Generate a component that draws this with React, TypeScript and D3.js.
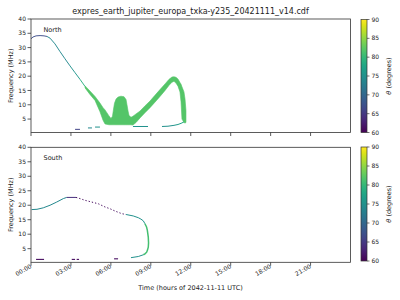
import React from 'react';
import * as d3 from 'd3';

const TITLE = 'expres_earth_jupiter_europa_txka-y235_20421111_v14.cdf';
const xTickHours = [0, 3, 6, 9, 12, 15, 18, 21];
const xTickLabels = ['00:00', '03:00', '06:00', '09:00', '12:00', '15:00', '18:00', '21:00'];
const yTicks = [5, 10, 15, 20, 25, 30, 35, 40];
const cbarTicks = [60, 65, 70, 75, 80, 85, 90];

// North hemisphere emission
const nLineT = [0, 0.15, 0.38, 0.68, 0.98, 1.2, 1.43, 1.8, 2.18, 2.55, 2.93, 3.31, 3.68, 4.06];
const nLineF = [33.1, 33.7, 34.1, 34.2, 34.1, 33.9, 33.3, 31.3, 28.6, 26.1, 23.6, 21.2, 18.9, 16.4];
const nLineTheta = [67, 67, 67, 67, 67, 74, 74, 74, 74, 74, 75, 76, 79, 80];

const nBandT = [4.06, 4.43, 4.81, 5.18, 5.41, 5.56, 5.86, 6.01, 6.12, 6.2, 6.27, 6.39, 6.54, 6.76, 6.99, 7.14, 7.21, 7.29, 7.36, 7.51, 7.66, 7.89, 8.19, 8.56, 8.94, 9.31, 9.69, 10.07, 10.37, 10.59, 10.74, 10.89, 11.04, 11.19, 11.27, 11.34, 11.49, 11.57, 11.64];
const nBandLo = [15.9, 13.6, 11.5, 7.6, 4.6, 3.3, 3.0, 3.0, 3.0, 3.0, 3.0, 3.0, 3.0, 3.0, 3.0, 3.0, 3.0, 3.0, 3.0, 3.0, 2.9, 3.8, 5.4, 7.2, 9.0, 10.9, 12.9, 15.0, 16.8, 17.9, 18.2, 17.6, 16.5, 14.5, 11.0, 5.0, 3.8, 3.6, 3.8];
const nBandHi = [16.6, 14.8, 12.9, 10.6, 9.0, 8.2, 6.1, 5.2, 6.0, 8.5, 10.5, 12.0, 12.7, 13.0, 12.8, 11.8, 10.0, 7.8, 6.3, 5.6, 6.0, 6.8, 7.8, 9.6, 11.3, 13.3, 15.3, 17.3, 18.9, 19.7, 19.8, 19.6, 19.0, 17.8, 17.2, 16.3, 14.5, 12.0, 8.0];
const nBandTheta = 82;

const nDashT0 = [3.31, 4.28, 4.81, 7.66];
const nDashT1 = [3.68, 4.58, 5.18, 8.79];
const nDashF = [1.4, 1.9, 2.2, 2.4];
const nDashTheta = [66, 74, 75, 75];

const nTailT = [9.84, 10.29, 10.74, 11.04, 11.27, 11.49];
const nTailF = [2.4, 2.5, 2.8, 3.1, 3.5, 4.0];
const nTailTheta = [75, 75, 76, 77, 78, 80];

// South hemisphere emission
const sLineT = [0.05, 0.45, 0.92, 1.43, 1.93, 2.43, 2.68, 3.38, 3.68, 4.06, 4.56, 5.06, 5.56, 5.93, 6.31, 6.81, 7.14, 7.68, 8.06, 8.26, 8.44, 8.56, 8.68, 8.74, 8.81, 8.83, 8.81, 8.75, 8.69, 8.56, 8.44, 8.06, 7.51];
const sLineF = [18.5, 18.6, 19.1, 20.0, 21.1, 22.3, 22.7, 22.7, 22.3, 21.7, 21.1, 20.5, 19.4, 18.8, 18.0, 17.1, 16.8, 16.3, 15.7, 15.2, 14.6, 13.6, 12.5, 11.3, 9.0, 7.0, 5.5, 4.5, 3.8, 3.2, 2.9, 2.3, 1.9];
const sLineTheta = [74, 74, 74, 74, 74, 74, 64, 61, 61, 61, 61, 61, 61, 61, 61, 61, 75, 75, 75, 75, 75, 81, 81, 81, 81, 81, 81, 81, 81, 81, 75, 75, 75];

const sDashT0 = [0.38, 3.06, 3.43, 6.24];
const sDashT1 = [0.98, 3.31, 3.61, 6.54];
const sDashF = [1.3, 1.3, 1.3, 1.5];
const sDashTheta = [61, 61, 61, 61];

const FONT = 'DejaVu Sans, sans-serif';
const TXT = '#222';
const AX = '#333';

const x = d3.scaleLinear().domain([0, 24]).range([31, 350.5]);
const color = (th: number) => d3.interpolateViridis((th - 60) / 30);

type Runs = { theta: number; pts: [number, number][] }[];
function runs(t: number[], f: number[], th: number[]): Runs {
  const out: Runs = [];
  for (let i = 0; i < t.length - 1; i++) {
    const last = out[out.length - 1];
    if (last && last.theta === th[i]) {
      last.pts.push([t[i + 1], f[i + 1]]);
    } else {
      out.push({ theta: th[i], pts: [[t[i], f[i]], [t[i + 1], f[i + 1]]] });
    }
  }
  return out;
}

function Panel({ top, bottom, label, kind }: { top: number; bottom: number; label: string; kind: 'N' | 'S' }) {
  const y = d3.scaleLinear().domain([0.3, 40]).range([bottom, top]);
  const line = d3.line<[number, number]>().x(d => x(d[0])).y(d => y(d[1]));
  const marks: React.ReactNode[] = [];
  if (kind === 'N') {
    const band = nBandT.map((t, i) => ({ t, lo: nBandLo[i], hi: nBandHi[i] }));
    const area = d3.area<{ t: number; lo: number; hi: number }>()
      .x(d => x(d.t)).y0(d => y(d.lo)).y1(d => y(d.hi));
    marks.push(<path key="band" d={area(band) || ''} fill={color(nBandTheta)} stroke={color(nBandTheta)} strokeWidth={0.6} />);
    runs(nLineT, nLineF, nLineTheta).forEach((r, i) =>
      marks.push(<path key={'nl' + i} d={line(r.pts) || ''} fill="none" stroke={color(r.theta)} strokeWidth={0.95} />));
    runs(nTailT, nTailF, nTailTheta).forEach((r, i) =>
      marks.push(<path key={'nt' + i} d={line(r.pts) || ''} fill="none" stroke={color(r.theta)} strokeWidth={1} />));
    nDashT0.forEach((t0, i) =>
      marks.push(<path key={'nd' + i} d={line([[t0, nDashF[i]], [nDashT1[i], nDashF[i]]]) || ''} stroke={color(nDashTheta[i])} strokeWidth={1} />));
  } else {
    runs(sLineT, sLineF, sLineTheta).forEach((r, i) =>
      marks.push(<path key={'sl' + i} d={line(r.pts) || ''} fill="none" stroke={color(r.theta)}
        strokeWidth={r.theta >= 80 ? 1.5 : 1} strokeDasharray={r.theta <= 62 ? '1.3 2' : undefined} />));
    sDashT0.forEach((t0, i) =>
      marks.push(<path key={'sd' + i} d={line([[t0, sDashF[i]], [sDashT1[i], sDashF[i]]]) || ''} stroke={color(sDashTheta[i])} strokeWidth={1.1} />));
  }
  const cTop = kind === 'N' ? 19.5 : 147;
  const cBot = kind === 'N' ? 132.5 : 261;
  const cy = d3.scaleLinear().domain([60, 90]).range([cBot, cTop]);
  return (
    <g>
      {marks}
      <rect x={31} y={top} width={319.5} height={bottom - top} fill="none" stroke={AX} strokeWidth={0.8} />
      {yTicks.map(v => (
        <g key={'yt' + v}>
          <line x1={27.5} x2={31} y1={y(v)} y2={y(v)} stroke={AX} strokeWidth={0.8} />
          <text x={26} y={y(v)} dy="0.35em" textAnchor="end" fontSize={6} fontFamily={FONT} fill={TXT}>{v}</text>
        </g>
      ))}
      {xTickHours.map(h => (
        <line key={'xt' + h} x1={x(h)} x2={x(h)} y1={bottom} y2={bottom + 3.5} stroke={AX} strokeWidth={0.8} />
      ))}
      <text x={43.5} y={top + 13} fontSize={6.5} fontFamily={FONT} fill={TXT}>{label}</text>
      <text transform={`translate(12.5,${(top + bottom) / 2}) rotate(-90)`} textAnchor="middle" fontSize={6.5} fontFamily={FONT} fill={TXT}>Frequency (MHz)</text>
      <rect x={361} y={cTop} width={6} height={cBot - cTop} fill="url(#viridisGrad)" stroke={AX} strokeWidth={0.7} />
      {cbarTicks.map(v => (
        <g key={'ct' + v}>
          <line x1={367} x2={369.5} y1={cy(v)} y2={cy(v)} stroke={AX} strokeWidth={0.7} />
          <text x={371.5} y={cy(v)} dy="0.35em" fontSize={6} fontFamily={FONT} fill={TXT}>{v}</text>
        </g>
      ))}
      <text transform={`translate(391,${(cTop + cBot) / 2}) rotate(-90)`} textAnchor="middle" fontSize={6.5} fontFamily={FONT} fill={TXT}>
        <tspan fontStyle="italic">θ</tspan> (degrees)
      </text>
    </g>
  );
}

export default function App() {
  const stops = d3.range(0, 1.0001, 0.05);
  return (
    <svg width={400} height={300} style={{ position: 'absolute', left: 0, top: 0, background: '#fff' }}>
      <style>{'body{margin:0}'}</style>
      <defs>
        <linearGradient id="viridisGrad" x1="0" y1="1" x2="0" y2="0">
          {stops.map(s => <stop key={s} offset={s} stopColor={d3.interpolateViridis(s)} />)}
        </linearGradient>
      </defs>
      <rect x={0} y={0} width={400} height={300} fill="#fff" />
      <text x={190.5} y={14} textAnchor="middle" fontSize={8} fontFamily={FONT} fill={TXT}>{TITLE}</text>
      <Panel top={19} bottom={132.5} label="North" kind="N" />
      <Panel top={147.3} bottom={262.3} label="South" kind="S" />
      {xTickHours.map((h, i) => (
        <text key={'xl' + h} transform={`translate(${x(h) + 1},${267.5}) rotate(-30)`} textAnchor="end" fontSize={6} fontFamily={FONT} fill={TXT}>{xTickLabels[i]}</text>
      ))}
      <text x={190.5} y={290} textAnchor="middle" fontSize={6.5} fontFamily={FONT} fill={TXT}>Time (hours of 2042-11-11 UTC)</text>
    </svg>
  );
}
